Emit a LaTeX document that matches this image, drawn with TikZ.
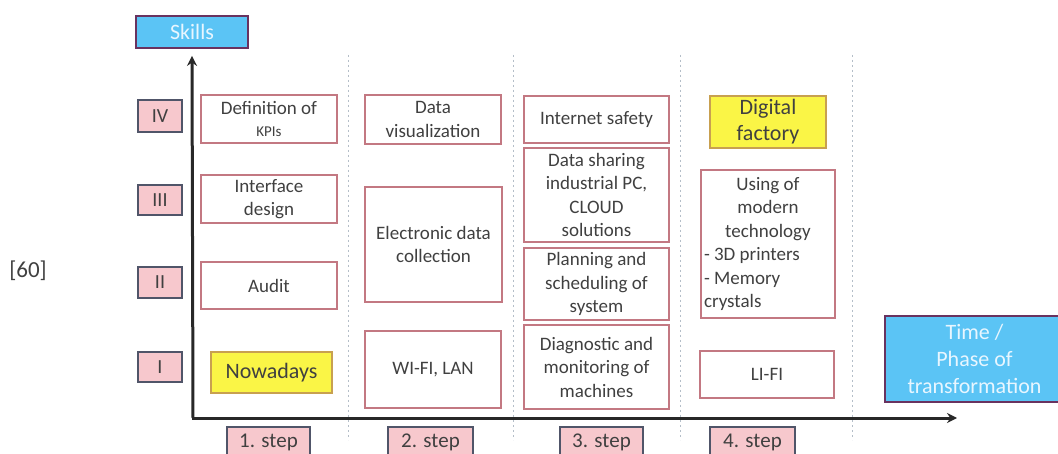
\documentclass[tikz,border=0pt]{standalone}
\usepackage{fontspec}
\setmainfont{Carlito}
\usetikzlibrary{arrows.meta}
\definecolor{skyfill}{RGB}{91,196,245}
\definecolor{skyline}{RGB}{105,50,95}
\definecolor{skytext}{RGB}{232,246,255}
\definecolor{pinkfill}{RGB}{247,200,205}
\definecolor{pinkline}{RGB}{80,85,105}
\definecolor{boxline}{RGB}{195,120,130}
\definecolor{yelfill}{RGB}{250,245,70}
\definecolor{yelline}{RGB}{200,160,80}
\definecolor{txt}{RGB}{64,64,64}
\definecolor{axiscol}{RGB}{40,40,40}
\definecolor{gridcol}{RGB}{180,190,200}
\newcommand\bx[7]{\node[#6, minimum width={(#4-#2)*1pt}, minimum height={(#5-#3)*1pt}] (#1) at ({(#2+#4)/2},{(#3+#5)/2}) {#7};}
\tikzset{
  base/.style={rectangle, inner sep=2pt, align=center, text=txt},
  wbox/.style={base, draw=boxline, line width=1.6pt, fill=white, font=\fontsize{19}{23.5}\selectfont},
  ybox/.style={base, draw=yelline, line width=1.6pt, fill=yelfill, font=\fontsize{22}{26}\selectfont},
  bbox/.style={base, draw=skyline, line width=1.8pt, fill=skyfill, text=skytext, font=\fontsize{22}{27}\selectfont},
  rbox/.style={base, draw=pinkline, line width=1.6pt, fill=pinkfill, font=\fontsize{20}{24}\selectfont},
  sbox/.style={base, draw=pinkline, line width=1.6pt, fill=pinkfill, font=\fontsize{21}{25}\selectfont},
  axisline/.style={draw=axiscol, line width=3pt, -{Stealth[length=10pt,width=10pt]}},
  gridline/.style={draw=gridcol, line width=1pt, dash pattern=on 2pt off 3pt},
}
\begin{document}
\begin{tikzpicture}[x=1pt,y=-1pt]
\useasboundingbox (0,0) rectangle (1058,454);
\clip (0,0) rectangle (1058,454);
\fill[white] (0,0) rectangle (1058,454);
% grid lines
\draw[gridline] (348,55) -- (348,440);
\draw[gridline] (513,55) -- (513,440);
\draw[gridline] (680,55) -- (680,440);
\draw[gridline] (852,55) -- (852,440);
% citation
\node[text=txt, font=\fontsize{23}{27}\selectfont] (cite) at (28,271) {[60]};
% axis labels
\bx{skills}{136}{16}{248}{48}{bbox}{Skills}
\bx{time}{885}{316}{1064}{402}{bbox}{Time /\\Phase of\\transformation}
% axes
\coordinate (O) at (193,418);
\coordinate (xend) at (957,418);
\draw[axisline] (O) -- ([yshift=-7pt]skills.south);
\draw[axisline] ([xshift=-1.5pt]O) -- (xend);
% levels
\bx{l4}{138}{100}{182}{132}{rbox}{IV}
\bx{l3}{138}{185}{182}{215}{rbox}{III}
\bx{l2}{138}{267}{182}{298}{rbox}{II}
\bx{l1}{138}{352}{182}{382}{rbox}{I}
% steps
\bx{s1}{227}{427}{310}{458}{sbox}{1. step}
\bx{s2}{388}{427}{473}{458}{sbox}{2. step}
\bx{s3}{560}{427}{643}{458}{sbox}{3. step}
\bx{s4}{710}{427}{795}{458}{sbox}{4. step}
% column 1
\bx{kpi}{201}{95}{337}{143}{wbox}{Definition of\\[-2pt]{\fontsize{15}{18}\selectfont KPIs}}
\bx{iface}{201}{175}{337}{223}{wbox}{Interface\\design}
\bx{audit}{201}{262}{337}{309}{wbox}{Audit}
\bx{now}{211}{352}{332}{393}{ybox}{Nowadays}
% column 2
\bx{dvis}{365}{95}{501}{144}{wbox}{Data\\visualization}
\bx{edc}{365}{187}{502}{302}{wbox}{Electronic data\\collection}
\bx{wifi}{365}{331}{501}{408}{wbox}{WI-FI, LAN}
% column 3
\bx{isafe}{524}{96}{669}{143}{wbox}{Internet safety}
\bx{dshare}{524}{148}{669}{242}{wbox}{Data sharing\\industrial PC,\\CLOUD\\solutions}
\bx{plan}{524}{248}{669}{320}{wbox}{Planning and\\scheduling of\\system}
\bx{diag}{524}{325}{669}{409}{wbox}{Diagnostic and\\monitoring of\\machines}
% column 4
\bx{dfac}{710}{96}{826}{148}{ybox}{Digital\\factory}
\bx{modern}{701}{170}{835}{318}{wbox}{Using of\\modern\\technology\\\makebox[128pt][l]{- 3D printers}\\\makebox[128pt][l]{- Memory}\\\makebox[128pt][l]{crystals}}
\bx{lifi}{700}{351}{834}{398}{wbox}{LI-FI}
\end{tikzpicture}
\end{document}
